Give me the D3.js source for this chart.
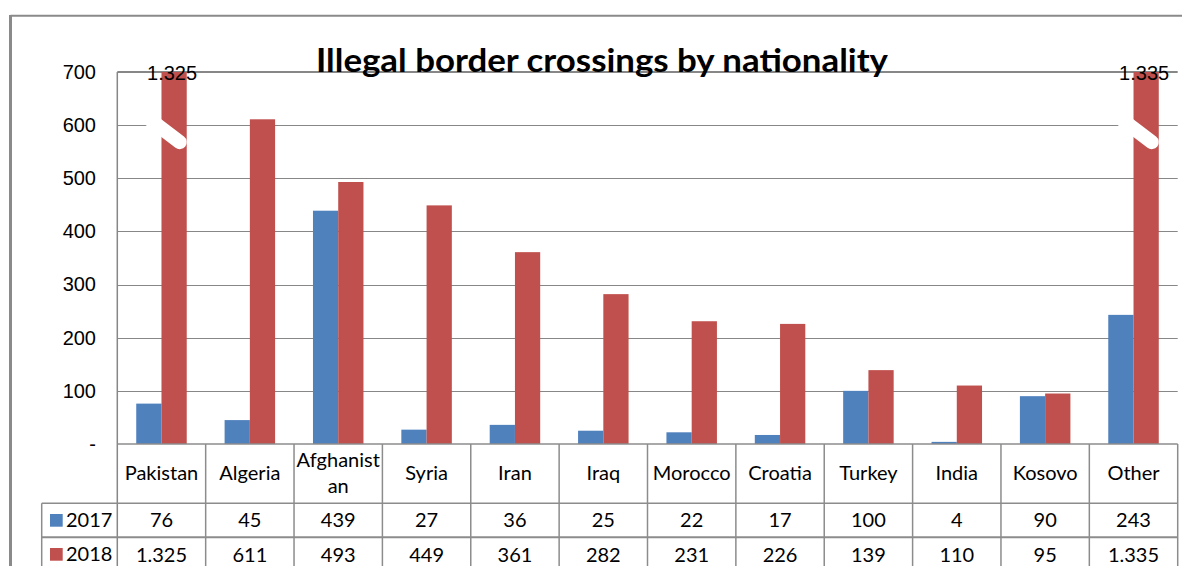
<!DOCTYPE html>
<html lang="en">
<head>
    <meta charset="UTF-8">
    <title>Illegal border crossings by nationality</title>
    <style>
        body { margin: 0; background: #fff; }
        svg text { fill: #000; }
    </style>
</head>
<body>
<svg height="566" width="1182"></svg>

<script src="https://d3js.org/d3.v7.min.js"></script>
<script>
    var countries = ["Pakistan", "Algeria", "Afghanistan", "Syria", "Iran", "Iraq", "Morocco", "Croatia", "Turkey", "India", "Kosovo", "Other"];
    var countryLines = [["Pakistan"], ["Algeria"], ["Afghanist", "an"], ["Syria"], ["Iran"], ["Iraq"], ["Morocco"], ["Croatia"], ["Turkey"], ["India"], ["Kosovo"], ["Other"]];
    var years = ["2017", "2018"];
    var values2017 = [76, 45, 439, 27, 36, 25, 22, 17, 100, 4, 90, 243];
    var values2018 = [1325, 611, 493, 449, 361, 282, 231, 226, 139, 110, 95, 1335];
    var yTicks = [0, 100, 200, 300, 400, 500, 600, 700];
    var axisMax = 700;
    var breakAt = 600;

    var colors = {"2017": "#4F81BD", "2018": "#C0504D"};
    var gridColor = "#878787";
    var tableFont = "Lato, 'Open Sans', sans-serif";
    var axisFont = "'Liberation Sans', Arial, sans-serif";

    var rows = countries.map(function(c, i) {
        return {country: c, lines: countryLines[i], "2017": values2017[i], "2018": values2018[i]};
    });

    var euro = d3.formatLocale({decimal: ",", thousands: ".", grouping: [3], currency: ["", "€"]});
    var fmt = euro.format(",d");

    var svg = d3.select("svg");
    var plot = {left: 117.3, right: 1177.7, top: 72, bottom: 444};

    var x = d3.scaleBand().domain(countries).range([plot.left, plot.right]).padding(0);
    var xYear = d3.scaleBand().domain(years).range([0, x.bandwidth()]).paddingInner(0).paddingOuter(0.75);
    var y = d3.scaleLinear().domain([0, axisMax]).range([plot.bottom, plot.top]);

    // outer chart frame
    svg.append("line").attr("x1", 10.5).attr("x2", 1182).attr("y1", 15.8).attr("y2", 15.8)
        .attr("stroke", "#8a8a8a").attr("stroke-width", 2);
    svg.append("line").attr("x1", 10.5).attr("x2", 10.5).attr("y1", 15).attr("y2", 566)
        .attr("stroke", "#8a8a8a").attr("stroke-width", 3);

    // gridlines
    svg.append("g").selectAll("line")
        .data(yTicks.filter(function(d) { return d > 0 && d < axisMax; }))
        .enter().append("line")
        .attr("x1", plot.left).attr("x2", plot.right)
        .attr("y1", function(d) { return Math.round(y(d)) + 0.5; })
        .attr("y2", function(d) { return Math.round(y(d)) + 0.5; })
        .attr("stroke", gridColor).attr("stroke-width", 1);

    // plot area border (top + left)
    svg.append("line").attr("x1", plot.left).attr("x2", plot.right).attr("y1", y(axisMax)).attr("y2", y(axisMax))
        .attr("stroke", gridColor).attr("stroke-width", 2);
    svg.append("line").attr("x1", plot.left).attr("x2", plot.left).attr("y1", y(axisMax)).attr("y2", 566)
        .attr("stroke", gridColor).attr("stroke-width", 1.5);

    // y axis
    var yAxis = d3.axisLeft(y).tickValues(yTicks).tickSize(0).tickPadding(0)
        .tickFormat(function(d) { return d === 0 ? "-" : fmt(d); });
    var yg = svg.append("g").attr("transform", "translate(96,0)").call(yAxis);
    yg.select(".domain").remove();
    yg.selectAll("text").attr("font-family", axisFont).attr("font-size", 20).attr("fill", "#000");

    // bars
    var groups = svg.append("g").selectAll("g")
        .data(rows).enter().append("g")
        .attr("transform", function(d) { return "translate(" + x(d.country) + ",0)"; });

    groups.selectAll("rect")
        .data(function(d) { return years.map(function(k) { return {key: k, value: d[k]}; }); })
        .enter().append("rect")
        .attr("x", function(d) { return xYear(d.key); })
        .attr("width", xYear.bandwidth())
        .attr("y", function(d) { return y(Math.min(d.value, axisMax)); })
        .attr("height", function(d) { return y(0) - y(Math.min(d.value, axisMax)); })
        .attr("fill", function(d) { return colors[d.key]; });

    // break marks and value labels for bars above the axis maximum
    var broken = groups.filter(function(d) { return d["2018"] > axisMax; });
    broken.append("line")
        .attr("x1", xYear("2018") - 12)
        .attr("y1", y(breakAt) - 6)
        .attr("x2", xYear("2018") + xYear.bandwidth() - 7)
        .attr("y2", y(breakAt) + 17)
        .attr("stroke", "#fff").attr("stroke-width", 14).attr("stroke-linecap", "round");
    broken.append("text")
        .attr("x", xYear("2018") + xYear.bandwidth() / 2 - 2)
        .attr("y", 80)
        .attr("text-anchor", "middle")
        .attr("font-family", axisFont).attr("font-size", 20)
        .text(function(d) { return fmt(d["2018"]); });

    // title
    svg.append("text")
        .attr("x", 602).attr("y", 72)
        .attr("text-anchor", "middle")
        .attr("font-family", tableFont).attr("font-weight", "bold").attr("font-size", 32)
        .attr("textLength", 572).attr("lengthAdjust", "spacingAndGlyphs")
        .text("Illegal border crossings by nationality");

    // data table
    var table = svg.append("g");
    var rowY = [444, 503.3, 537.3];
    var legendLeft = 41.7;
    var lineStyle = function(sel) { return sel.attr("stroke", "#8c8c8c").attr("stroke-width", 1.5); };

    table.append("line").attr("x1", plot.left).attr("x2", plot.right).attr("y1", rowY[0]).attr("y2", rowY[0]).call(lineStyle);
    table.append("line").attr("x1", legendLeft).attr("x2", plot.right).attr("y1", rowY[1]).attr("y2", rowY[1]).call(lineStyle);
    table.append("line").attr("x1", legendLeft).attr("x2", plot.right).attr("y1", rowY[2]).attr("y2", rowY[2]).call(lineStyle)
        .attr("stroke-width", 2);
    table.append("line").attr("x1", legendLeft).attr("x2", legendLeft).attr("y1", rowY[1]).attr("y2", 566).call(lineStyle);
    table.selectAll(".col").data(countries).enter().append("line")
        .attr("class", "col")
        .attr("x1", function(d) { return x(d) + x.bandwidth(); })
        .attr("x2", function(d) { return x(d) + x.bandwidth(); })
        .attr("y1", rowY[0]).attr("y2", 566).call(lineStyle);

    var cells = table.selectAll(".cell").data(rows).enter().append("g")
        .attr("class", "cell")
        .attr("transform", function(d) { return "translate(" + (x(d.country) + x.bandwidth() / 2) + ",0)"; })
        .attr("font-family", tableFont).attr("font-size", 20).attr("text-anchor", "middle");

    cells.each(function(d) {
        var g = d3.select(this);
        var base = d.lines.length > 1 ? 467.3 : 479.5;
        d.lines.forEach(function(t, i) {
            g.append("text").attr("y", base + i * 25.4).text(t);
        });
        g.append("text").attr("y", 526.5).text(fmt(d["2017"]));
        g.append("text").attr("y", 561.5).text(fmt(d["2018"]));
    });

    // legend keys in the table
    var legend = table.selectAll(".key").data(years).enter().append("g")
        .attr("class", "key")
        .attr("transform", function(d, i) { return "translate(50," + (i === 0 ? 514 : 548) + ")"; });
    legend.append("rect").attr("width", 12.7).attr("height", 12.7).attr("fill", function(d) { return colors[d]; });
    legend.append("text").attr("x", 16).attr("y", 12.5)
        .attr("font-family", tableFont).attr("font-size", 20)
        .text(function(d) { return d; });
</script>
</body>
</html>
